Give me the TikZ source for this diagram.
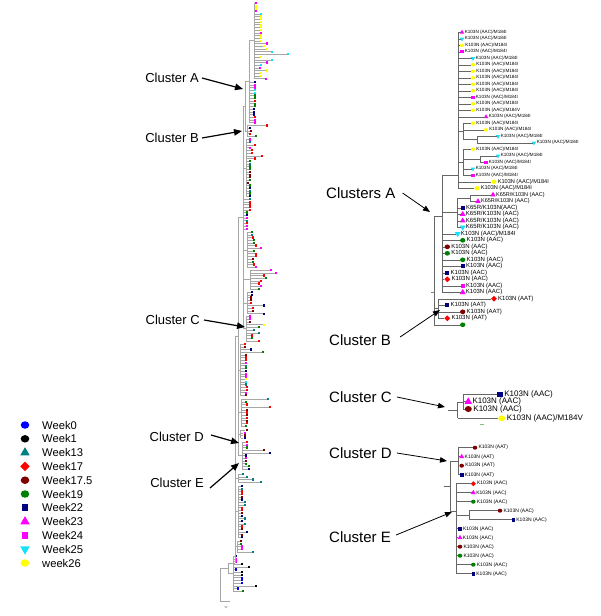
\documentclass[tikz,border=0pt]{standalone}
\usepackage{fontspec}
\setmainfont{Liberation Sans}
\usepackage{tikz}
\usetikzlibrary{arrows.meta, positioning, shapes.geometric}

\definecolor{wkblue}{RGB}{0,0,255}
\definecolor{wkteal}{RGB}{0,128,128}
\definecolor{wkred}{RGB}{255,0,0}
\definecolor{wkmaroon}{RGB}{128,0,0}
\definecolor{wkgreen}{RGB}{0,128,0}
\definecolor{wknavy}{RGB}{0,0,128}
\definecolor{wkmag}{RGB}{255,0,255}
\definecolor{wkcyan}{RGB}{20,225,250}
\definecolor{wkyellow}{RGB}{255,255,0}
% short names for the big tree
\colorlet{cb}{wkblue}
\colorlet{ck}{black}
\colorlet{ct}{wkteal}
\colorlet{cr}{wkred}
\colorlet{cm}{wkmaroon}
\colorlet{cg}{wkgreen}
\colorlet{cn}{wknavy}
\colorlet{cp}{wkmag}
\colorlet{cc}{wkcyan}
\colorlet{cy}{wkyellow}

\tikzset{
    mk/.style={inner sep=0pt, outer sep=0pt, minimum size=\msz*1pt},
    rnd/.style={mk, ellipse, minimum width=1.15*\msz*1pt, minimum height=\msz*1pt},
    tri/.style={mk, regular polygon, regular polygon sides=3, minimum size=1.45*\msz*1pt},
    w0/.style={rnd, fill=wkblue},
    w1/.style={rnd, fill=black},
    w13/.style={tri, fill=wkteal},
    w17/.style={mk, diamond, fill=wkred, minimum size=1.25*\msz*1pt},
    w175/.style={rnd, fill=wkmaroon},
    w19/.style={rnd, fill=wkgreen},
    w22/.style={mk, rectangle, fill=wknavy, minimum size=0.9*\msz*1pt},
    w23/.style={tri, fill=wkmag},
    w24/.style={mk, rectangle, fill=wkmag, minimum size=0.9*\msz*1pt},
    w25/.style={tri, shape border rotate=180, fill=wkcyan},
    w26/.style={rnd, fill=wkyellow},
    lf/.style={fill=#1, inner sep=0pt, minimum size=2.2pt},
    brL/.style={gray!70, line width=0.35pt},
    brR/.style={black!60, line width=0.55pt},
    clL/.style={font=\fontsize{13}{15}\selectfont, inner sep=1pt},
    clR/.style={font=\fontsize{15}{17}\selectfont, inner sep=1pt},
    arrL/.style={-{Triangle[length=8pt,width=6.5pt]}, line width=1.2pt},
    arrR/.style={-{Triangle[length=7pt,width=5.5pt]}, line width=0.8pt},
}

\def\txtA{K103N (AAC)/M184I}
\def\txtV{K103N (AAC)/M184V}
\def\txtK{K65R/K103N (AAC)}
\def\txtKn{K65R/K103N(AAC)}
\def\txtC{K103N (AAC)}
\def\txtT{K103N (AAT)}
\def\txtE{}

\begin{document}
\begin{tikzpicture}[x=1pt, y=-1pt]
    \useasboundingbox (0,0) rectangle (600,616);

    % whole tree, leaf groups
    \foreach \xv/\ys/\lst [count=\sg] in {
        254/3/{1/cp,1/cy,1/cy,1/cp,6/cc,6/cy,6/cy,6/cy,6/cy,6/cy,6/cy,6/cp,6/cy,6/cy,6/cy,12/cp,9/cy,12/cy,17/cc,33/cc,6/cy,17/cc,12/cp,6/cc,5/cp,12/cy,6/cy,6/cy,11/cp},
        249/82/{5/cn,5/cp,5/cp,5/cc,5/cc,5/cg,5/cg,5/cr,5/cg,5/cg,4/cn,4/cn,4/cn,5/cr,5/cp,5/cp},
        247/125.5/{19/cr,2/cn,3/cm,2/cr,8/cg},
        246/139.5/{3/cp,3/ct,8/cr,3/cp,5/cr,5/cr,15/cr,8/cr,3/cg,3/ct,3/cg,3/cg,3/cm,3/cm,3/cm,3/cg,1/cm,3/cg,3/cn,3/ct,3/cg,3/cn},
        243/199/{6/ct,6/cr,6/cr,6/cr,6/cr,3/cg,3/cn,3/cp,3/ct,3/cr,3/cp,3/cp},
        247/232/{4/cg,4/ct,5/cr,6/cg,6/cg,8/cr,13/cp,6/cg,8/cr,8/cr,5/cm,5/cg,6/cr,8/cp},
        250/270/{20/cp,25/cp,13/cr,15/cg,10/cr,8/cr,10/cp,8/cg},
        247/292/{4/cn,4/cn,3/cm,3/cm,3/cr,16/cn,5/cr,5/cm,16/cn},
        246/316.5/{3/cp,3/cp,3/cm,17/cy,12/cg,7/ct,12/ct,5/cr,5/cg,12/cr},
        240/344/{4/cr,4/cm,10/cn,22/cg,5/cm,5/cr,5/cr,5/cp,5/ct,5/cg,5/cn,5/cp,5/cp,5/cy,5/cc,5/ct,6/cr,6/cr,5/cp,5/cm},
        241/399/{26/ct,4/cg,5/cr,28/cr,5/cm,5/cr,5/cm,5/cr,5/cm,5/cr,4/cg},
        240.5/430/{5/cm,3/cp,3/cm,3/cn},
        242/442/{4/cr,4/cp,4/cg,21/cm,27/cn,3/cn,3/cp,3/cm,3/cg,6/cg,6/cn},
        238/474/{4/ct,8/ct,14/ct,22/ct},
        238/486/{3/cn,3/ct,3/cr,3/cr,3/cm,3/cn,6/ct,6/ct,3/cr,3/cr,3/cm,3/cn,6/ct,3/cn,6/ct,3/cr,3/cm,8/cn,3/cm,3/cn},
        237/541/{3/cm,3/cg,4/cp,4/cp,15/ct},
        233/556/{2/cn,2/cp,2/cp,8/ck,15/ck,2/cb,8/ck,8/ck,8/cb,8/cb,8/cb,22/ck,4/cb,9/cg}}
    {
        \foreach \l/\c [count=\i] in \lst {
            \pgfmathsetmacro\yy{\ys+(\i-1)*2.7}
            \node[lf=\c] (t\sg-\i) at (\xv+\l+1.1,\yy) {};
            \draw[brL] (\xv,\yy) -- (t\sg-\i);
            \ifnum\i>1 \draw[brL] (\xv,\yy) -- ++(0,-2.7); \fi
        }
    }
    % whole tree, inner branches
    \draw[brL] (249,40) -- (249,82) (249,40) -- (254,40);
    \draw[brL] (245,81) -- (249,81) (245,131) -- (247,131) (245,81) -- (245,131);
    \draw[brL] (243,106) -- (245,106) (243,106) -- (243,328);
    \draw[brL] (243,168) -- (246,168) (243,250) -- (247,250) (243,279) -- (250,279)
        (243,303) -- (247,303) (243,328) -- (246,328);
    \draw[brL] (238,217) -- (243,217) (238,217) -- (238,455);
    \draw[brL] (238,370) -- (240,370) (238,412) -- (241,412) (238,434) -- (240.5,434)
        (238,455) -- (242,455);
    \draw[brL] (235,336) -- (238,336) (235,336) -- (235,563);
    \draw[brL] (235,478) -- (238,478) (235,511) -- (238,511) (235,546) -- (237,546);
    \draw[brL] (228,563) -- (235,563) (228,563) -- (228,573) (228,573) -- (233,573);
    \draw[brL] (220,568) -- (228,568) (220,568) -- (220,601) (220,601) -- (230,601);
    \node[font=\fontsize{4}{4}\selectfont, text=gray] (scl) at (226,607) {w};

    % labels on the whole tree
    \node[clL, anchor=east] (labLA) at (200,78) {Cluster A};
    \node[clL, anchor=east] (labLB) at (200,138) {Cluster B};
    \node[clL, anchor=east] (labLC) at (201,320) {Cluster C};
    \node[clL, anchor=east] (labLD) at (205,437) {Cluster D};
    \node[clL, anchor=east] (labLE) at (205,483) {Cluster E};
    \coordinate (tipLA) at (243,89);
    \coordinate (tipLB) at (242,131);
    \coordinate (tipLC) at (245,327);
    \coordinate (tipLD) at (239,443);
    \coordinate (tipLE) at (239,463);
    \draw[arrL] ([xshift=2pt]labLA.east) -- (tipLA);
    \draw[arrL] ([xshift=2pt]labLB.east) -- (tipLB);
    \draw[arrL] ([xshift=3pt]labLC.east) -- (tipLC);
    \draw[arrL] ([xshift=6pt,yshift=2pt]labLD.east) -- (tipLD);
    \draw[arrL] ([xshift=5pt,yshift=-5pt]labLE.east) -- (tipLE);

    % clusters A and B
    \foreach \p/\x/\s/\t/\f [count=\i] in {
        458/462/w23/\txtA/4.6, 458/462/w25/\txtA/4.6, 458/462/w26/\txtA/4.6, 458/462/w24/\txtA/4.6,
        458/473/w25/\txtA/4.6, 458/473/w26/\txtA/4.6, 458/473/w26/\txtA/4.6, 458/473/w26/\txtA/4.6,
        458/473/w26/\txtA/4.6, 458/473/w26/\txtA/4.6, 458/473/w24/\txtA/4.6, 458/473/w26/\txtA/4.6,
        458/473/w26/\txtV/4.6, 458/486/w23/\txtA/4.6,
        463/473/w26/\txtA/4.6, 463/486/w26/\txtA/4.6, 477/498/w25/\txtA/4.6, 477/534/w25/\txtA/4.6,
        463/473/w26/\txtA/4.6, 480/498/w25/\txtA/4.6, 480/486/w24/\txtA/4.6, 463/473/w25/\txtA/4.6,
        463/473/w24/\txtA/4.6,
        458/494/w26/\txtA/5.6, 458/477/w26/\txtA/5.6,
        470/493/w23/\txtK/5.5, 470/478/w23/\txtK/5.5,
        457/462.7/w22/\txtKn/6, 457/462.7/w23/\txtK/6, 457/462.7/w23/\txtK/6, 457/462.7/w25/\txtK/6,
        442/457.7/w25/\txtA/6, 442/462.7/w19/\txtC/6, 442/447.3/w175/\txtC/6, 442/447.3/w19/\txtC/6,
        442/462.7/w19/\txtC/6, 442/462.7/w22/\txtC/6, 442/447.3/w22/\txtC/6, 442/447.3/w17/\txtC/6,
        442/462.7/w24/\txtC/6, 442/462.7/w23/\txtC/6,
        438/494/w17/\txtT/6, 438/447.3/w22/\txtT/6, 438/462.7/w175/\txtT/6, 438/447.3/w17/\txtT/6,
        434/462.7/w19/\txtE/6}
    {
        \pgfmathsetmacro\yy{32.3+(\i-1)*6.5}
        \pgfmathsetmacro\msz{0.78*\f}
        \node[\s] (a\i) at (\x,\yy) {};
        \draw[brR] (\p,\yy) -- (a\i);
        \node[inner sep=0.3pt, font=\fontsize{\f}{\f}\selectfont, right=0.8pt of a\i] (at\i) {\t};
    }
    \draw[brR] (477,136.3) -- (477,142.8) (463,139.55) -- (477,139.55);
    \draw[brR] (463,123.3) -- (463,139.55) (458,131.4) -- (463,131.4);
    \draw[brR] (480,155.8) -- (480,162.3) (463,159) -- (480,159);
    \draw[brR] (463,149.3) -- (463,175.3) (458,162.3) -- (463,162.3);
    \draw[brR] (458,32.3) -- (458,188.3) (442,175) -- (458,175);
    \draw[brR] (470,194.8) -- (470,201.3) (457,198) -- (470,198);
    \draw[brR] (457,198) -- (457,227.3) (442,212) -- (457,212);
    \draw[brR] (442,175) -- (442,292.3) (434,216.7) -- (442,216.7);
    \draw[brR] (438,298.8) -- (438,318.3) (434,308.5) -- (438,308.5);
    \draw[brR] (434,216.7) -- (434,324.8);
    \draw[black!50, line width=0.5pt] (431,292) -- (434,292);

    % cluster C
    \foreach \x/\y/\s/\t [count=\i] in {
        500/394.4/w22/\txtC, 468.3/401.7/w23/\txtC, 468.3/409/w175/\txtC, 501.7/418.3/w26/\txtV}
    {
        \def\msz{6}
        \node[\s] (c\i) at (\x,\y) {};
        \node[inner sep=0.3pt, font=\fontsize{8}{8}\selectfont, right=1.2pt of c\i] (ct\i) {\t};
    }
    \draw[brR] (463,394.4) -- (c1) (463,401.7) -- (c2) (463,409) -- (c3) (457.7,418.3) -- (c4);
    \draw[brR] (463,394.4) -- (463,409) (457.7,402) -- (463,402);
    \draw[brR] (457.7,402) -- (457.7,418.3) (448,410) -- (457.7,410);
    \draw[wkgreen!50, line width=0.6pt] (480,424) -- (484,424);

    % clusters D and E
    \foreach \p/\x/\s/\t [count=\i] in {
        458/475/w175/\txtT, 458/461.7/w23/\txtT, 458/461.7/w175/\txtT, 458/461.7/w22/\txtT,
        456/473.3/w17/\txtC, 456/473.3/w23/\txtC, 456/473.3/w19/\txtC, 469.3/500/w175/\txtC,
        469.3/513.3/w22/\txtC, 456/460/w22/\txtC, 456/460/w23/\txtC, 456/460/w175/\txtC,
        456/460/w19/\txtC, 456/473.3/w19/\txtC, 456/473.3/w22/\txtC}
    {
        \pgfmathsetmacro\yy{447.7+(\i-1)*9}
        \def\msz{4}
        \node[\s] (e\i) at (\x,\yy) {};
        \draw[brR] (\p,\yy) -- (e\i);
        \node[inner sep=0.3pt, font=\fontsize{5}{5}\selectfont, right=0.8pt of e\i] (et\i) {\t};
    }
    \draw[brR] (458,447.7) -- (458,474.7) (450,461.2) -- (458,461.2);
    \draw[brR] (469.3,510.7) -- (469.3,519.7) (456,515.2) -- (469.3,515.2);
    \draw[brR] (456,483.7) -- (456,573.7) (450,511) -- (456,511);
    \draw[brR] (450,461.2) -- (450,511) (444,486) -- (450,486);

    % cluster labels on the right
    \node[clR, anchor=west] (labRA) at (325,193) {Clusters A};
    \node[clR, anchor=west] (labRB) at (328,340) {Cluster B};
    \node[clR, anchor=west] (labRC) at (328,397) {Cluster C};
    \node[clR, anchor=west] (labRD) at (328,453) {Cluster D};
    \node[clR, anchor=west] (labRE) at (328,537) {Cluster E};
    \coordinate (tipRA) at (430,212);
    \coordinate (tipRB) at (440,310);
    \coordinate (tipRC) at (445,407);
    \coordinate (tipRD) at (447,461);
    \coordinate (tipRE) at (452,512);
    \draw[arrR] ([xshift=6pt]labRA.east) -- (tipRA);
    \draw[arrR] ([xshift=8pt,yshift=3pt]labRB.east) -- (tipRB);
    \draw[arrR] ([xshift=4pt]labRC.east) -- (tipRC);
    \draw[arrR] ([xshift=4pt]labRD.east) -- (tipRD);
    \draw[arrR] ([xshift=4pt,yshift=2pt]labRE.east) -- (tipRE);

    % legend
    \def\msz{7.5}
    \foreach \s/\t [count=\i] in {w0/Week0, w1/Week1, w13/Week13, w17/Week17, w175/Week17.5,
        w19/Week19, w22/Week22, w23/Week23, w24/Week24, w25/Week25, w26/week26}
    {
        \pgfmathsetmacro\yy{425+(\i-1)*13.8}
        \node[\s] (lg\i) at (25,\yy) {};
        \node[inner sep=0pt, font=\fontsize{11.2}{13}\selectfont, anchor=west] (lgt\i) at (42,\yy) {\t};
    }
\end{tikzpicture}
\end{document}
